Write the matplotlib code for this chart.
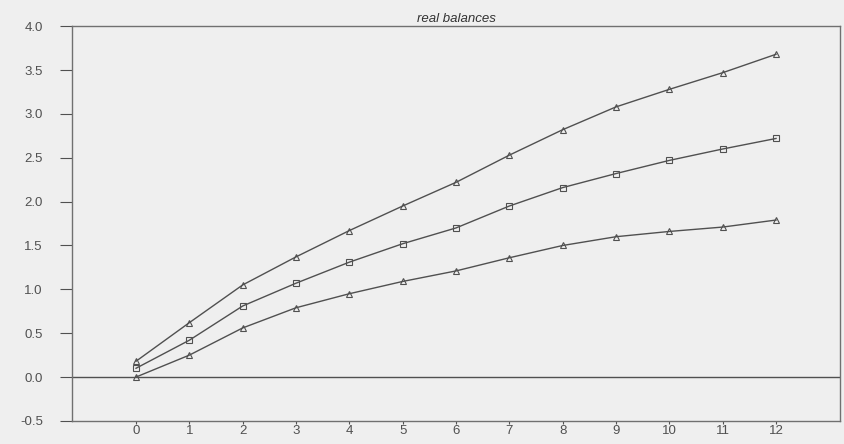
import matplotlib.pyplot as plt

plt.rcParams['font.family'] = ['Liberation Sans', 'DejaVu Sans']

periods = list(range(13))
upper = [0.18, 0.62, 1.05, 1.37, 1.67, 1.95, 2.22, 2.53, 2.82, 3.08, 3.28, 3.47, 3.68]
middle = [0.10, 0.42, 0.81, 1.07, 1.31, 1.52, 1.70, 1.95, 2.16, 2.32, 2.47, 2.60, 2.72]
lower = [0.00, 0.25, 0.56, 0.79, 0.95, 1.09, 1.21, 1.36, 1.50, 1.60, 1.66, 1.71, 1.79]
yticks = [-0.5, 0.0, 0.5, 1.0, 1.5, 2.0, 2.5, 3.0, 3.5, 4.0]

bg = '#efefef'
ink = '#505050'

fig = plt.figure(figsize=(8.44, 4.44), dpi=100, facecolor=bg)
ax = fig.add_axes([0.0853, 0.052, 0.91, 0.889], facecolor=bg)

style = dict(color=ink, lw=1.0, markersize=5, markerfacecolor='none', markeredgewidth=0.8)
ax.plot(periods, upper, marker='^', **style)
ax.plot(periods, middle, marker='s', **style)
ax.plot(periods, lower, marker='^', **style)
ax.axhline(0, color=ink, lw=1.0)

ax.set_xlim(-1.2, 13.2)
ax.set_ylim(-0.5, 4.0)
ax.set_xticks(periods)
ax.set_yticks(yticks)
ax.set_yticklabels([f'{v:.1f}' for v in yticks])
ax.tick_params(colors=ink, labelsize=9.5, width=0.8)
ax.tick_params(axis='y', length=9, pad=12)
ax.tick_params(axis='x', length=2, pad=1)
for s in ax.spines.values():
    s.set_color('#707070')
    s.set_linewidth(1.0)

ax.set_title('real balances', fontsize=9.5, style='italic', color='#333333', pad=3)

fig.savefig('out.png', dpi=100, facecolor=bg)
